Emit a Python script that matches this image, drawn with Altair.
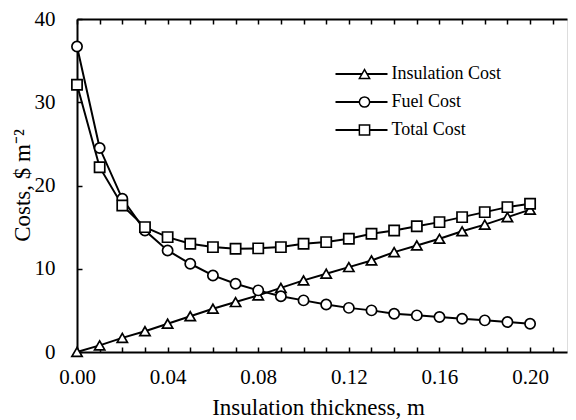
import altair as alt
import pandas as pd

thickness = [0.00, 0.01, 0.02, 0.03, 0.04, 0.05, 0.06, 0.07, 0.08, 0.09, 0.10,
             0.11, 0.12, 0.13, 0.14, 0.15, 0.16, 0.17, 0.18, 0.19, 0.20]
insulation_cost = [0.0, 0.8, 1.7, 2.5, 3.4, 4.3, 5.2, 6.0, 6.8, 7.7, 8.6,
                   9.4, 10.2, 11.0, 12.0, 12.8, 13.6, 14.5, 15.3, 16.2, 17.1]
fuel_cost = [36.7, 24.5, 18.4, 14.6, 12.2, 10.6, 9.2, 8.2, 7.4, 6.7, 6.2,
             5.7, 5.3, 5.0, 4.6, 4.4, 4.2, 4.0, 3.8, 3.6, 3.4]
total_cost = [32.1, 22.2, 17.6, 15.0, 13.8, 13.0, 12.6, 12.4, 12.45, 12.6, 13.0,
              13.2, 13.6, 14.2, 14.6, 15.1, 15.6, 16.2, 16.8, 17.4, 17.8]

series_names = ["Insulation Cost", "Fuel Cost", "Total Cost"]
marker_shapes = ["triangle-up", "circle", "square"]
line_colors = ["black", "black", "black"]
x_tick_values = [0.00, 0.01, 0.02, 0.03, 0.04, 0.05, 0.06, 0.07, 0.08, 0.09, 0.10,
                 0.11, 0.12, 0.13, 0.14, 0.15, 0.16, 0.17, 0.18, 0.19, 0.20, 0.21]
y_tick_values = [0, 10, 20, 30, 40]

rows = []
for name, vals in zip(series_names, [insulation_cost, fuel_cost, total_cost]):
    for t, v in zip(thickness, vals):
        rows.append({"thickness": t, "cost": v, "series": name})
df = pd.DataFrame(rows)

FONT = "Liberation Serif"
xscale = alt.Scale(domain=[0, 0.2163], nice=False, zero=False)
yscale = alt.Scale(domain=[0, 40], nice=False)

label_expr = "round(datum.value*100) % 4 == 0 ? format(datum.value, '.2f') : ''"

x_main = alt.X(
    "thickness:Q", scale=xscale,
    axis=alt.Axis(
        values=x_tick_values, labelExpr=label_expr, title="Insulation thickness, m",
        tickSize={"expr": "-5"}, tickWidth=1.5, tickColor="black",
        domainColor="black", domainWidth=2, labelPadding=19, labelFlush=False,
        labelFontSize=21, labelFont=FONT, labelColor="black",
        titleFontSize=23, titleFont=FONT, titleFontWeight="normal", titleColor="black",
        titleX=241, titleY=55, titleBaseline="middle", grid=False,
    ),
)
y_main = alt.Y(
    "cost:Q", scale=yscale,
    axis=alt.Axis(
        values=y_tick_values, title="Costs, $ m⁻²",
        tickSize={"expr": "-5"}, tickWidth=1.5, tickColor="black",
        domainColor="black", domainWidth=2, labelPadding=27, labelFlush=False,
        labelFontSize=21, labelFont=FONT, labelColor="black",
        titleFontSize=23, titleFont=FONT, titleFontWeight="normal", titleColor="black",
        titleX=-55, titleY=166, titleBaseline="middle", titleAngle=-90, grid=False,
    ),
)

# legend for the line part (labels shown here)
lines = alt.Chart(df).mark_line(color="black", strokeWidth=2).encode(
    x=x_main, y=y_main,
    stroke=alt.Stroke(
        "series:N", sort=series_names,
        scale=alt.Scale(range=line_colors),
        legend=alt.Legend(
            title=None, orient="none", legendX=257.5, legendY=45, padding=0,
            symbolType="stroke", symbolSize=2704, symbolStrokeWidth=2,
            clipHeight=20, rowPadding=8,
            labelFont=FONT, labelFontSize=18, labelColor="black", labelOffset=3,
            labelLimit=300, zindex=0,
        ),
    ),
    order="thickness:Q",
)

x_top = alt.X(
    "thickness:Q", scale=xscale,
    axis=alt.Axis(
        orient="top", values=x_tick_values, labels=False, title=None,
        tickSize={"expr": "-5"}, tickWidth=1.5, tickColor="black",
        domainColor="black", domainWidth=2, grid=False,
    ),
)

# legend for the marker part (drawn over the line, no labels of its own)
points = alt.Chart(df).mark_point(
    filled=True, fill="white", stroke="black", strokeWidth=1.7, size=105, opacity=1, clip=False
).encode(
    x=x_top,
    y=alt.Y("cost:Q", scale=yscale, axis=None),
    shape=alt.Shape(
        "series:N", scale=alt.Scale(domain=series_names, range=marker_shapes),
        legend=alt.Legend(
            title=None, orient="none", legendX=278.5, legendY=45, padding=0,
            symbolSize=105, clipHeight=20, rowPadding=8,
            labelFont=FONT, labelFontSize=18, labelExpr="''", labelOffset=3,
            labelLimit=300, zindex=1,
        ),
    ),
)

chart = alt.layer(lines, points).resolve_axis(
    x="independent", y="independent"
).properties(
    width=490, height=333,
    autosize=alt.AutoSizeParams(type="none"),
    padding={"left": 69, "top": 11, "right": 1, "bottom": 68},
).configure_view(
    stroke="black", strokeWidth=2
).configure(
    font=FONT
)

chart.save("out.html", embed_options={"renderer": "svg", "actions": False})
